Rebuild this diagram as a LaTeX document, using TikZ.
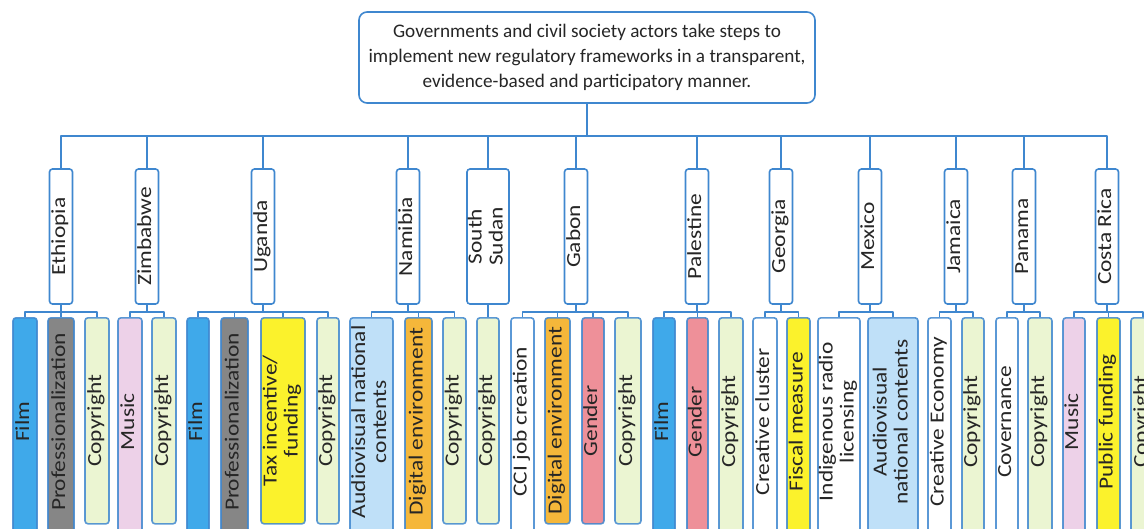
\documentclass[tikz,border=0pt]{standalone}
\usepackage{fontspec}
\setmainfont{Carlito}
\usepackage{graphicx}
\definecolor{ln}{HTML}{3F87CF}
\definecolor{txt}{HTML}{262626}
\definecolor{cfilm}{HTML}{3FA9EA}
\definecolor{cprof}{HTML}{868686}
\definecolor{ccopy}{HTML}{EBF5D2}
\definecolor{cmusic}{HTML}{EDD1E8}
\definecolor{cyel}{HTML}{FBF22C}
\definecolor{cav}{HTML}{BFE0F8}
\definecolor{cdig}{HTML}{F5B73A}
\definecolor{cgen}{HTML}{EE9099}
\newcommand{\vt}[1]{\rotatebox{90}{\scalebox{1.17}[1]{\begin{tabular}{@{}c@{}}#1\end{tabular}}}}
\newcommand{\vtl}[1]{\rotatebox{90}{\hspace*{22pt}\scalebox{1.17}[1]{\begin{tabular}{@{}c@{}}#1\end{tabular}}}}
\tikzset{
  conn/.style={draw=ln, line width=1.6pt, line join=round},
  topbox/.style={draw=ln, line width=1.6pt, rounded corners=8pt, fill=white, text=txt,
    minimum width=456pt, minimum height=91pt, inner sep=0pt, align=center,
    font=\fontsize{19.2}{25}\selectfont},
  country/.style={draw=ln, line width=1.6pt, rounded corners=3pt, fill=white, text=txt,
    minimum width=23pt, minimum height=135pt, inner sep=0pt,
    font=\fontsize{20}{21}\selectfont},
  leaf/.style={draw=ln, draw opacity=0.85, line width=1.6pt, rounded corners=3pt, text=txt,
    inner sep=0pt, anchor=north, minimum height=206pt,
    font=\fontsize{20}{21}\selectfont},
  long/.style={minimum height=230pt},
}
\begin{document}
\begin{tikzpicture}[x=1pt,y=-1pt]
\useasboundingbox (0,0) rectangle (1144,528);
\clip (0,0) rectangle (1144,528);

\node[topbox] (top) at (587,57.5) {Governments and civil society actors take steps to\\implement new regulatory frameworks in a transparent,\\evidence-based and participatory manner.};

% countries
\node[country] (eth) at (61,236.5) {\vt{Ethiopia}};
\node[country] (zim) at (147,236.5) {\vt{Zimbabwe}};
\node[country] (uga) at (263,236.5) {\vt{Uganda}};
\node[country] (nam) at (408,236.5) {\vt{Namibia}};
\node[country, minimum width=38pt] (ssu) at (488,236.5) {\vt{South\\Sudan}};
\node[country] (gab) at (576,236.5) {\vt{Gabon}};
\node[country] (pal) at (697,236.5) {\vt{Palestine}};
\node[country] (geo) at (781,236.5) {\vt{Georgia}};
\node[country] (mex) at (870,236.5) {\vt{Mexico}};
\node[country] (jam) at (956,236.5) {\vt{Jamaica}};
\node[country] (pan) at (1024,236.5) {\vt{Panama}};
\node[country] (cri) at (1107,236.5) {\vt{Costa Rica}};

\foreach \c in {eth,zim,uga,nam,ssu,gab,pal,geo,mex,jam,pan,cri}
  \draw[conn] (top.south) -- ++(0,32) -| (\c.north);

% leaves
% Ethiopia
\node[leaf,long,fill=cfilm,minimum width=24pt] (eth1) at (25,317) {\vtl{Film}};
\node[leaf,long,fill=cprof,minimum width=26pt] (eth2) at (61,317) {\vtl{Professionalization}};
\node[leaf,fill=ccopy,minimum width=24pt] (eth3) at (97,317) {\vt{Copyright}};
% Zimbabwe
\node[leaf,long,fill=cmusic,minimum width=24pt] (zim1) at (130,317) {\vtl{Music}};
\node[leaf,fill=ccopy,minimum width=24pt] (zim2) at (164,317) {\vt{Copyright}};
% Uganda
\node[leaf,long,fill=cfilm,minimum width=22pt] (uga1) at (198,317) {\vtl{Film}};
\node[leaf,long,fill=cprof,minimum width=27pt] (uga2) at (234.5,317) {\vtl{Professionalization}};
\node[leaf,fill=cyel,minimum width=44pt] (uga3) at (283,317) {\vt{Tax incentive/\\funding}};
\node[leaf,fill=ccopy,minimum width=22pt] (uga4) at (328,317) {\vt{Copyright}};
% Namibia
\node[leaf,long,fill=cav,minimum width=43pt] (nam1) at (371.5,317) {\vtl{Audiovisual national\\contents}};
\node[leaf,long,fill=cdig,minimum width=27pt] (nam2) at (418.5,317) {\vtl{Digital environment}};
\node[leaf,fill=ccopy,minimum width=23pt] (nam3) at (454.5,317) {\vt{Copyright}};
% South Sudan
\node[leaf,fill=ccopy,minimum width=22pt] (ssu1) at (488,317) {\vt{Copyright}};
% Gabon
\node[leaf,long,fill=white,minimum width=23pt] (gab1) at (522.5,317) {\vtl{CCI job creation}};
\node[leaf,fill=cdig,minimum width=25pt] (gab2) at (557.5,317) {\vt{Digital environment}};
\node[leaf,fill=cgen,minimum width=22pt] (gab3) at (593,317) {\vt{Gender}};
\node[leaf,fill=ccopy,minimum width=26pt] (gab4) at (628,317) {\vt{Copyright}};
% Palestine
\node[leaf,long,fill=cfilm,minimum width=22pt] (pal1) at (664,317) {\vtl{Film}};
\node[leaf,long,fill=cgen,minimum width=21pt] (pal2) at (697.5,317) {\vtl{Gender}};
\node[leaf,long,fill=ccopy,minimum width=24pt] (pal3) at (731,317) {\vtl{Copyright}};
% Georgia
\node[leaf,long,fill=white,minimum width=24pt] (geo1) at (765,317) {\vtl{Creative cluster}};
\node[leaf,long,fill=cyel,minimum width=23pt] (geo2) at (798.5,317) {\vtl{Fiscal measure}};
% Mexico
\node[leaf,long,fill=white,minimum width=36pt] (mex1) at (839,317) {\vtl{Indigenous radio\\licensing}};
\node[leaf,long,fill=cav,minimum width=50pt] (mex2) at (893,317) {\vtl{Audiovisual\\national contents}};
% Jamaica
\node[leaf,long,fill=white,minimum width=23pt] (jam1) at (939.5,317) {\vtl{Creative Economy}};
\node[leaf,long,fill=ccopy,minimum width=22pt] (jam2) at (973,317) {\vtl{Copyright}};
% Panama
\node[leaf,long,fill=white,minimum width=22pt] (pan1) at (1007,317) {\vtl{Covernance}};
\node[leaf,long,fill=ccopy,minimum width=24pt] (pan2) at (1040,317) {\vtl{Copyright}};
% Costa Rica
\node[leaf,long,fill=cmusic,minimum width=22pt] (cri1) at (1074,317) {\vtl{Music}};
\node[leaf,long,fill=cyel,minimum width=23pt] (cri2) at (1108.5,317) {\vtl{Public funding}};
\node[leaf,long,fill=ccopy,minimum width=24pt] (cri3) at (1143,317) {\vtl{Copyright}};

% sub connectors
\foreach \p/\ch in {eth/{eth1,eth2,eth3}, zim/{zim1,zim2}, uga/{uga1,uga2,uga3,uga4},
  nam/{nam1,nam2,nam3}, ssu/{ssu1}, gab/{gab1,gab2,gab3,gab4}, pal/{pal1,pal2,pal3},
  geo/{geo1,geo2}, mex/{mex1,mex2}, jam/{jam1,jam2}, pan/{pan1,pan2}, cri/{cri1,cri2,cri3}}
  \foreach \l in \ch
    \draw[conn] (\p.south) -- ++(0,7) -| (\l.north);
\end{tikzpicture}
\end{document}
